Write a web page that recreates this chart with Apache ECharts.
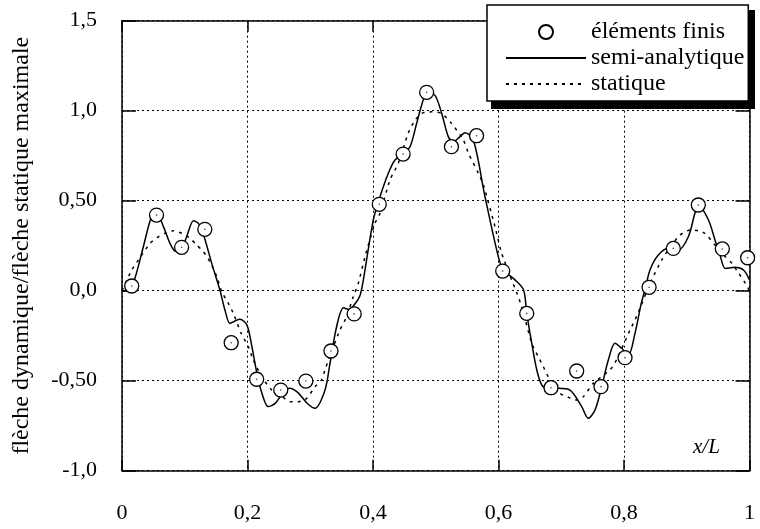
<!DOCTYPE html>
<html>
<head>
<meta charset="utf-8">
<script src="https://cdn.jsdelivr.net/npm/echarts@6/dist/echarts.min.js"></script>
<style>
html,body{margin:0;padding:0;background:#fff;}
#chart{width:760px;height:529px;}
</style>
</head>
<body>
<div id="chart"></div>
<script>
// ---- data ----
const xTickLabels = {0: '0', 0.2: '0,2', 0.4: '0,4', 0.6: '0,6', 0.8: '0,8', 1: '1'};
const yTickLabels = {'-1': '-1,0', '-0.5': '-0,50', '0': '0,0', '0.5': '0,50', '1': '1,0', '1.5': '1,5'};

const seriesNames = ['éléments finis', 'semi-analytique', 'statique'];

const feX = [0.0155, 0.055, 0.095, 0.132, 0.174, 0.2146, 0.253, 0.293, 0.333, 0.370, 0.410, 0.448, 0.4855,
             0.525, 0.565, 0.6067, 0.645, 0.6837, 0.7246, 0.7633, 0.8016, 0.840, 0.8786, 0.9184, 0.9567, 0.997];
const feY = [0.026, 0.42, 0.241, 0.341, -0.289, -0.492, -0.552, -0.502, -0.335, -0.129, 0.48, 0.759, 1.102,
             0.80, 0.861, 0.109, -0.126, -0.539, -0.446, -0.533, -0.372, 0.019, 0.235, 0.476, 0.232, 0.183];

const semiX = [0, 0.012, 0.0207, 0.034, 0.047, 0.055, 0.066, 0.0765, 0.0845, 0.0924, 0.103, 0.114, 0.1217,
               0.13, 0.143, 0.156, 0.164, 0.172, 0.18, 0.188, 0.199, 0.207, 0.215, 0.223, 0.233, 0.244,
               0.256, 0.267, 0.28, 0.295, 0.3076, 0.3235, 0.3315, 0.342, 0.353, 0.362, 0.372, 0.379,
               0.3846, 0.4005, 0.4112, 0.4244, 0.435, 0.448, 0.459, 0.4696, 0.48, 0.4865, 0.4988, 0.5095,
               0.52, 0.528, 0.537, 0.5466, 0.56, 0.5785, 0.5997, 0.6077, 0.6263, 0.64, 0.645, 0.653,
               0.661, 0.669, 0.6795, 0.6954, 0.714, 0.7326, 0.743, 0.7538, 0.7645, 0.775, 0.7857, 0.7963,
               0.807, 0.8175, 0.8275, 0.8335, 0.8414, 0.8547, 0.8706, 0.8866, 0.9025, 0.913, 0.918,
               0.9346, 0.945, 0.953, 0.9614, 0.977, 0.9904, 1.0];
const semiY = [0, 0.005, 0.07, 0.244, 0.411, 0.43, 0.356, 0.263, 0.22, 0.217, 0.30, 0.389, 0.374,
               0.31, 0.152, 0.004, -0.107, -0.181, -0.168, -0.159, -0.19, -0.311, -0.459, -0.57, -0.644, -0.626,
               -0.57, -0.542, -0.565, -0.625, -0.653, -0.552, -0.403, -0.2, -0.095, -0.105, -0.07, -0.03,
               0.06, 0.393, 0.522, 0.652, 0.726, 0.76, 0.80, 0.93, 1.06, 1.10, 1.085, 0.985,
               0.856, 0.828, 0.85, 0.878, 0.837, 0.522, 0.189, 0.115, 0.06, 0.004, -0.126, -0.292,
               -0.44, -0.524, -0.548, -0.542, -0.552, -0.644, -0.709, -0.663, -0.533, -0.385, -0.292, -0.32,
               -0.357, -0.237, -0.07, 0.004, 0.115, 0.198, 0.236, 0.226, 0.30, 0.43, 0.476,
               0.393, 0.282, 0.198, 0.124, 0.13, 0.115, 0.06];

const statX = [0, 0.0155, 0.026, 0.0446, 0.057, 0.0685, 0.0818, 0.095, 0.1084, 0.119, 0.1297, 0.1403, 0.151,
               0.159, 0.1695, 0.1774, 0.19, 0.2013, 0.2093, 0.2226, 0.2386, 0.2518, 0.2677, 0.281, 0.2944,
               0.3076, 0.318, 0.3235, 0.3368, 0.3474, 0.358, 0.3686, 0.3766, 0.3873, 0.403, 0.4112, 0.427,
               0.4403, 0.456, 0.467, 0.4776, 0.4935, 0.5095, 0.525, 0.544, 0.5522, 0.568, 0.576, 0.5944,
               0.605, 0.621, 0.629, 0.637, 0.653, 0.6634, 0.6714, 0.682, 0.698, 0.711, 0.7246, 0.7352,
               0.751, 0.7777, 0.788, 0.8096, 0.8175, 0.8255, 0.836, 0.844, 0.86, 0.876, 0.889, 0.905,
               0.918, 0.9288, 0.945, 0.9614, 0.972, 0.983, 0.9936, 1.0];
const statY = [0, 0.115, 0.17, 0.263, 0.297, 0.319, 0.333, 0.319, 0.291, 0.254, 0.217, 0.161, 0.078,
               -0.006, -0.07, -0.126, -0.237, -0.311, -0.385, -0.478, -0.552, -0.579, -0.617, -0.617, -0.598,
               -0.533, -0.496, -0.44, -0.311, -0.218, -0.144, -0.033, 0.041, 0.189, 0.374, 0.43, 0.615,
               0.708, 0.874, 0.948, 0.985, 0.994, 0.985, 0.93, 0.837, 0.763, 0.652, 0.587, 0.356,
               0.208, 0.059, -0.01, -0.089, -0.292, -0.367, -0.422, -0.496, -0.57, -0.592, -0.607, -0.589,
               -0.515, -0.44, -0.385, -0.218, -0.163, -0.098, -0.006, 0.059, 0.17, 0.254, 0.309, 0.337,
               0.333, 0.319, 0.254, 0.189, 0.152, 0.096, 0.041, 0.0];

const zip = (xs, ys) => xs.map((x, i) => [x, ys[i]]);

// ---- chart ----
const FONT = 'Liberation Serif';
const chart = echarts.init(document.getElementById('chart'), null, {renderer: 'canvas'});
const gridLine = {show: true, lineStyle: {color: '#000', width: 1, type: [2, 3]}};
const axisLine = {show: true, onZero: false, lineStyle: {color: '#000', width: 1.5}};
const tickX = {show: true, inside: true, length: 11, lineStyle: {color: '#000', width: 1.5}};
const tickY = {show: true, inside: true, length: 14, lineStyle: {color: '#000', width: 1.5}};
const hiddenIcon = {color: 'rgba(0,0,0,0)', borderWidth: 0, opacity: 0};

chart.setOption({
  animation: false,
  backgroundColor: '#fff',
  textStyle: {fontFamily: FONT, color: '#000'},
  title: {
    text: 'x/L', left: 688, top: 432,
    textStyle: {fontFamily: FONT, fontStyle: 'italic', fontWeight: 'normal', fontSize: 21, color: '#000'}
  },
  graphic: [{
    type: 'rect', z: 3, silent: true,
    shape: {x: 491, y: 10, width: 264, height: 99},
    style: {fill: '#000'}
  }],
  grid: {left: 122, right: 10.5, top: 20.7, bottom: 58.3},
  legend: {
    orient: 'vertical', left: 487, top: 5, z: 5,
    padding: [15, 4, 5, 18],
    itemWidth: 80, itemHeight: 14, itemGap: 2,
    backgroundColor: '#fff', borderColor: '#000', borderWidth: 1.5,
    textStyle: {fontFamily: FONT, fontSize: 24, color: '#000'},
    data: [
      {name: seriesNames[0]},
      {name: seriesNames[1], itemStyle: hiddenIcon},
      {name: seriesNames[2], itemStyle: hiddenIcon}
    ]
  },
  xAxis: [{
    type: 'value', min: 0, max: 1, interval: 0.2, position: 'bottom',
    axisLine: axisLine, axisTick: tickX,
    axisLabel: {margin: 32, fontFamily: FONT, fontSize: 22, color: '#000',
      formatter: v => xTickLabels[Math.round(v * 10) / 10]},
    splitLine: gridLine
  }, {
    type: 'value', min: 0, max: 1, interval: 0.2, position: 'top',
    axisLine: axisLine, axisTick: tickX,
    axisLabel: {show: false}, splitLine: {show: false}
  }],
  yAxis: [{
    type: 'value', min: -1, max: 1.5, interval: 0.5, position: 'left',
    name: 'flèche dynamique/flèche statique maximale',
    nameLocation: 'middle', nameGap: 88,
    nameTextStyle: {fontFamily: FONT, fontSize: 24, color: '#000'},
    axisLine: axisLine, axisTick: tickY,
    axisLabel: {margin: 25, fontFamily: FONT, fontSize: 22, color: '#000',
      formatter: v => yTickLabels[String(Math.round(v * 10) / 10)]},
    splitLine: gridLine
  }, {
    type: 'value', min: -1, max: 1.5, interval: 0.5, position: 'right',
    axisLine: axisLine, axisTick: tickY,
    axisLabel: {show: false}, splitLine: {show: false}
  }],
  series: [{
    name: seriesNames[1], type: 'line', data: zip(semiX, semiY),
    symbol: 'none', smooth: 0.3, z: 3,
    lineStyle: {color: '#000', width: 1.5},
    itemStyle: {color: '#000'}
  }, {
    name: seriesNames[2], type: 'line', data: zip(statX, statY),
    symbol: 'none', smooth: 0.2, z: 2,
    lineStyle: {color: '#000', width: 1.5, type: [3, 5]},
    itemStyle: {color: '#000'}
  }, {
    name: seriesNames[0], type: 'scatter', data: zip(feX, feY),
    symbol: 'circle', symbolSize: 14, z: 4,
    itemStyle: {color: '#fff', borderColor: '#000', borderWidth: 1.3, opacity: 1}
  }, {
    name: 'centres', type: 'scatter', data: zip(feX, feY),
    symbol: 'circle', symbolSize: 1.6, z: 5, silent: true,
    itemStyle: {color: '#444', opacity: 1}
  }]
});
</script>
</body>
</html>
